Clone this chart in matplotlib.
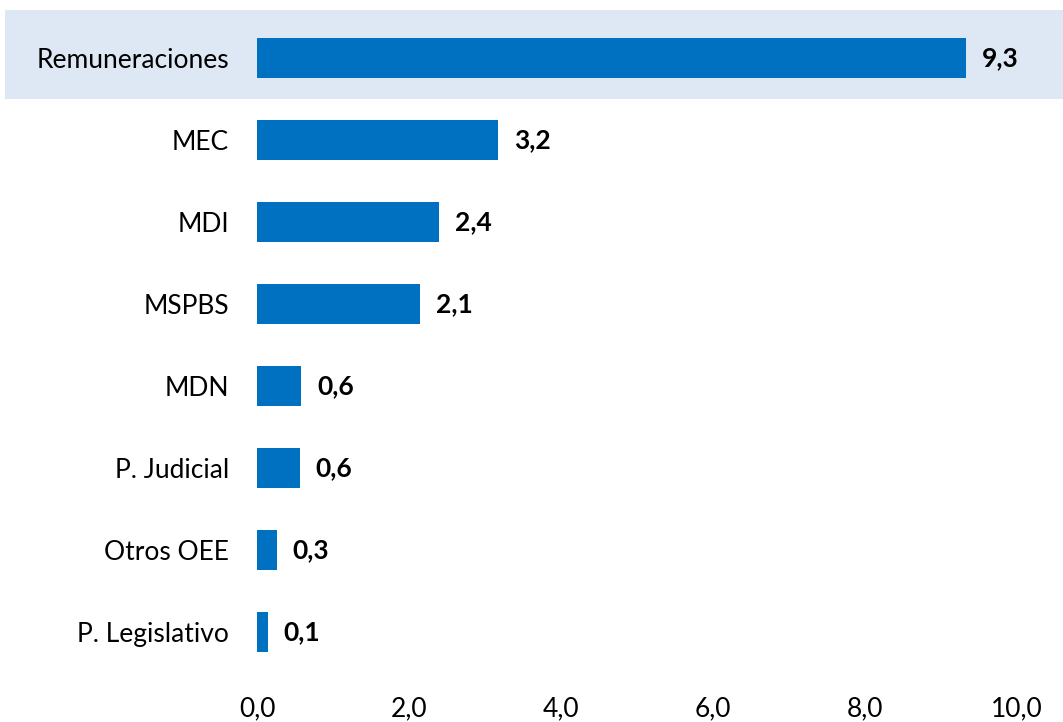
import matplotlib.pyplot as plt
import matplotlib.transforms as mtransforms
from matplotlib.patches import Rectangle

categorias = ['Remuneraciones', 'MEC', 'MDI', 'MSPBS', 'MDN', 'P. Judicial',
              'Otros OEE', 'P. Legislativo']
valores = [9.33, 3.17, 2.40, 2.14, 0.58, 0.56, 0.26, 0.14]
ticks_x = [0, 2, 4, 6, 8, 10]

azul = '#0070C0'
fondo = '#DEE8F4'
plt.rcParams['font.family'] = ['Lato', 'DejaVu Sans']

fig = plt.figure(figsize=(10.63, 7.22), dpi=100)
ax = fig.add_axes([257 / 1063, 49 / 722, 760 / 1063, 656 / 722])

y = list(range(len(categorias)))
ax.barh(y, valores, height=0.49, color=azul, zorder=3)
ax.set_ylim(len(categorias) - 0.5, -0.5)
ax.set_xlim(0, 10)

# banda resaltada detras de la primera fila
trans = mtransforms.blended_transform_factory(fig.transFigure, ax.transData)
ax.add_patch(Rectangle((5 / 1063, -0.585), 1, 1.085, transform=trans,
                       facecolor=fondo, edgecolor='none', zorder=0,
                       clip_on=False))

for yi, v in zip(y, valores):
    ax.annotate(f'{v:.1f}'.replace('.', ','), (v, yi), xytext=(16, 0),
                textcoords='offset pixels', va='center', ha='left',
                fontsize=19, fontweight='bold', color='black')

ax.set_yticks(y)
ax.set_yticklabels(categorias, fontsize=19)
ax.set_xticks(ticks_x)
ax.set_xticklabels([f'{t:.1f}'.replace('.', ',') for t in ticks_x], fontsize=19)
ax.tick_params(axis='y', length=0, pad=20)
ax.tick_params(axis='x', length=0, pad=17)
for s in ax.spines.values():
    s.set_visible(False)
ax.patch.set_visible(False)

plt.savefig('out.png', dpi=100)
